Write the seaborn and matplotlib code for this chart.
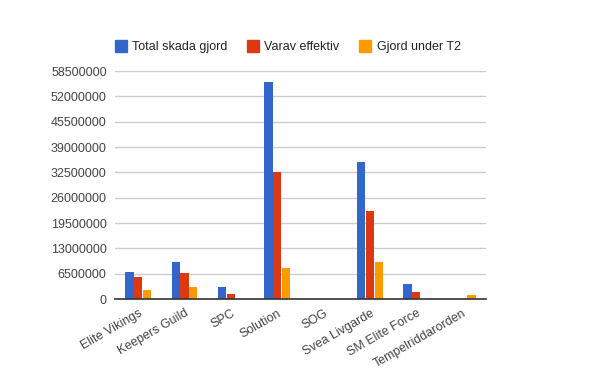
import pandas as pd
import seaborn as sns
import matplotlib.pyplot as plt
from matplotlib.lines import Line2D

# Data
guilds = ['Elite Vikings', 'Keepers Guild', 'SPC', 'Solution', 'SOG',
          'Svea Livgarde', 'SM Elite Force', 'Tempelriddarorden']
total = [6900000, 9500000, 3100000, 55700000, 0, 35200000, 3850000, 0]
effektiv = [5650000, 6750000, 1300000, 32600000, 0, 22600000, 1800000, 0]
under_t2 = [2400000, 3100000, 0, 7950000, 0, 9500000, 0, 1050000]
series = ['Total skada gjord', 'Varav effektiv', 'Gjord under T2']
colors = ['#3366cc', '#dc3912', '#ff9900']
yticks = [0, 6500000, 13000000, 19500000, 26000000, 32500000,
          39000000, 45500000, 52000000, 58500000]

df = pd.DataFrame({'guild': guilds * 3,
                   'series': [s for s in series for _ in guilds],
                   'value': total + effektiv + under_t2})

sns.set_style('white')
plt.rcParams['font.family'] = ['Liberation Sans', 'DejaVu Sans']

fig = plt.figure(figsize=(6, 3.71), dpi=100)
ax = fig.add_axes([0.1917, 0.194, 0.618, 0.6146])

sns.barplot(data=df, x='guild', y='value', hue='series', palette=colors,
            width=0.57, gap=0.06, saturation=1, legend=False,
            linewidth=0, edgecolor='none', ax=ax)

ax.set_ylim(0, 58500000)
ax.set_yticks(yticks)
ax.set_yticklabels([str(t) for t in yticks], fontsize=9, color='#444444')
ax.grid(axis='y', color='#cccccc', linewidth=1)
ax.set_axisbelow(True)
ax.set_xlim(-0.5, len(guilds) - 0.5)
ax.tick_params(length=0, pad=6)
ax.set_xticks(range(len(guilds)))
ax.set_xticklabels(guilds, rotation=30, ha='right', rotation_mode='anchor',
                   fontsize=9, color='#444444')
ax.set_xlabel('')
ax.set_ylabel('')
for s in ['top', 'right', 'left']:
    ax.spines[s].set_visible(False)
ax.spines['bottom'].set_color('#333333')
ax.spines['bottom'].set_linewidth(1.2)

handles = [Line2D([], [], marker='s', linestyle='none', markersize=9,
                  markerfacecolor=c, markeredgecolor=c, label=s)
           for c, s in zip(colors, series)]
fig.legend(handles=handles, loc='upper left', bbox_to_anchor=(0.173, 0.919),
           ncol=3, frameon=False, fontsize=9, handlelength=0.9,
           handletextpad=0.45, columnspacing=1.62,
           labelcolor='#222222')

fig.savefig('out.png', dpi=100)
